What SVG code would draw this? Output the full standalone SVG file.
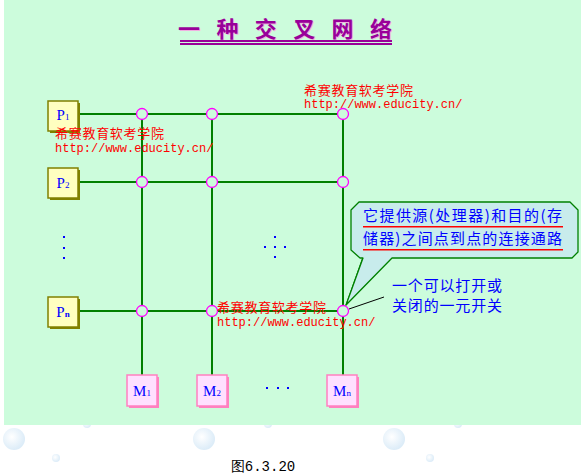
<svg xmlns="http://www.w3.org/2000/svg" width="581" height="474" viewBox="0 0 581 474">
<defs>
<radialGradient id="bub" cx="0.4" cy="0.4" r="0.6">
<stop offset="0" stop-color="#ffffff"/>
<stop offset="1" stop-color="#dcecf8"/>
</radialGradient>
</defs>
<style>
.wire{stroke:#008000;stroke-width:2;fill:none}
.sw{fill:#ccfcdc;stroke:#ff00ff;stroke-width:1.3}
.pbox{fill:#ffffc0;stroke:#808000;stroke-width:1.5}
.pshadow{fill:#808000}
.mbox{fill:#ffe0ff;stroke:#ff80c0;stroke-width:1.5}
.mshadow{fill:#ff80c0}
.lbl{font-family:"Liberation Serif",serif;font-size:15px;fill:#0000ff;text-anchor:middle}
.sub{font-size:9px}
.wm{font-family:"Noto Sans CJK SC",sans-serif;font-size:13px;fill:#ff0000}
.url{font-family:"Liberation Mono",monospace;font-size:12px;fill:#ff0000}
.note{font-family:"Noto Sans CJK SC",sans-serif;font-size:15px;fill:#0000ff}
.dot{fill:#0000ff}
</style>
<rect x="0" y="0" width="581" height="474" fill="#ffffff"/>
<g id="bubbles">
<circle cx="14" cy="439" r="11" fill="url(#bub)"/>
<circle cx="204" cy="439" r="11" fill="url(#bub)"/>
<circle cx="394" cy="439" r="11" fill="url(#bub)"/>
<circle cx="56" cy="458" r="4" fill="url(#bub)"/>
<circle cx="430" cy="458" r="4" fill="url(#bub)"/>
<circle cx="87" cy="424" r="4" fill="url(#bub)"/>
<circle cx="268" cy="424" r="4" fill="url(#bub)"/>
<circle cx="458" cy="424" r="4" fill="url(#bub)"/>
</g>
<rect x="4" y="0" width="577" height="425" fill="#ccfcdc"/>
<g id="title">
<text x="179" y="38" font-family="Noto Sans CJK SC,sans-serif" font-size="22" font-weight="bold" fill="#f0b0e0" letter-spacing="16.4">一种交叉网络</text>
<text x="178" y="37" font-family="Noto Sans CJK SC,sans-serif" font-size="22" font-weight="bold" fill="#990099" letter-spacing="16.4">一种交叉网络</text>
<rect x="180" y="40" width="212" height="2" fill="#990099"/>
<rect x="180" y="43" width="212" height="2" fill="#990099"/>
</g>
<g id="connectors">
<path class="wire" d="M79 114H343M79 182H343M79 311H343M142 114V375M212 114V375M343 114V375"/>
<polygon points="363,257 392,257 346,305" fill="#c8ecec" stroke="#008000" stroke-width="1"/>
<line x1="349" y1="309" x2="384" y2="297" stroke="#000000" stroke-width="1"/>
</g>
<g id="switches">
<circle class="sw" cx="142" cy="114" r="5.5"/>
<circle class="sw" cx="212" cy="114" r="5.5"/>
<circle class="sw" cx="343" cy="114" r="5.5"/>
<circle class="sw" cx="142" cy="182" r="5.5"/>
<circle class="sw" cx="212" cy="182" r="5.5"/>
<circle class="sw" cx="343" cy="182" r="5.5"/>
<circle class="sw" cx="142" cy="311" r="5.5"/>
<circle class="sw" cx="212" cy="311" r="5.5"/>
<circle class="sw" cx="343" cy="311" r="5.5"/>
</g>
<g id="P1">
<rect class="pshadow" x="50" y="103" width="30" height="30"/>
<rect class="pbox" x="48" y="101" width="30" height="30"/>
<text class="lbl" x="63" y="120">P<tspan class="sub">1</tspan></text>
</g>
<g id="P2">
<rect class="pshadow" x="50" y="170" width="30" height="30"/>
<rect class="pbox" x="48" y="168" width="30" height="30"/>
<text class="lbl" x="63" y="188">P<tspan class="sub">2</tspan></text>
</g>
<g id="Pn">
<rect class="pshadow" x="50" y="299" width="30" height="30"/>
<rect class="pbox" x="48" y="297" width="30" height="30"/>
<text class="lbl" x="63" y="317">P<tspan class="sub" font-weight="bold">n</tspan></text>
</g>
<g id="M1">
<rect class="mshadow" x="129" y="377" width="30" height="31"/>
<rect class="mbox" x="127" y="375" width="30" height="31"/>
<text class="lbl" x="142" y="396">M<tspan class="sub">1</tspan></text>
</g>
<g id="M2">
<rect class="mshadow" x="199" y="377" width="30" height="31"/>
<rect class="mbox" x="197" y="375" width="30" height="31"/>
<text class="lbl" x="212" y="396">M<tspan class="sub">2</tspan></text>
</g>
<g id="Mn">
<rect class="mshadow" x="329" y="377" width="30" height="31"/>
<rect class="mbox" x="327" y="375" width="30" height="31"/>
<text class="lbl" x="342" y="396">M<tspan class="sub">n</tspan></text>
</g>
<g id="dots">
<rect class="dot" x="63" y="236" width="2" height="2"/>
<rect class="dot" x="63" y="247" width="2" height="2"/>
<rect class="dot" x="63" y="257" width="2" height="2"/>
<rect class="dot" x="274" y="236" width="2" height="2"/>
<rect class="dot" x="264" y="246" width="2" height="2"/>
<rect class="dot" x="274" y="246" width="2" height="2"/>
<rect class="dot" x="284" y="246" width="2" height="2"/>
<rect class="dot" x="274" y="256" width="2" height="2"/>
<rect class="dot" x="266" y="387" width="2" height="2"/>
<rect class="dot" x="277" y="387" width="2" height="2"/>
<rect class="dot" x="287" y="387" width="2" height="2"/>
</g>
<g id="callout">
<path d="M359 202H570L578 210V252L572 258H392L346 305L363 258H360L351 250V210Z" fill="#c8ecec" stroke="#008000" stroke-width="1.3" stroke-linejoin="round"/>
<text class="note" x="363" y="221" textLength="199" lengthAdjust="spacing">它提供源(处理器)和目的(存</text>
<text class="note" x="363" y="244" textLength="199" lengthAdjust="spacing">储器)之间点到点的连接通路</text>
<rect x="363" y="226" width="200" height="1.5" fill="#ff0000"/>
<rect x="363" y="249" width="200" height="1.5" fill="#ff0000"/>
</g>
<g id="switch-note">
<text class="note" x="392" y="291" textLength="110" lengthAdjust="spacing">一个可以打开或</text>
<text class="note" x="392" y="311" textLength="110" lengthAdjust="spacing">关闭的一元开关</text>
</g>
<g id="watermarks">
<text class="wm" x="304" y="95" textLength="109" lengthAdjust="spacing">希赛教育软考学院</text>
<text class="url" x="304" y="108">http://www.educity.cn/</text>
<text class="wm" x="55" y="138" textLength="109" lengthAdjust="spacing">希赛教育软考学院</text>
<text class="url" x="55" y="152">http://www.educity.cn/</text>
<text class="wm" x="217" y="312" textLength="109" lengthAdjust="spacing">希赛教育软考学院</text>
<text class="url" x="217" y="326">http://www.educity.cn/</text>
</g>
<text x="263" y="471" font-family="Liberation Mono,monospace" font-size="14" fill="#000000" text-anchor="middle">图6.3.20</text>
</svg>
